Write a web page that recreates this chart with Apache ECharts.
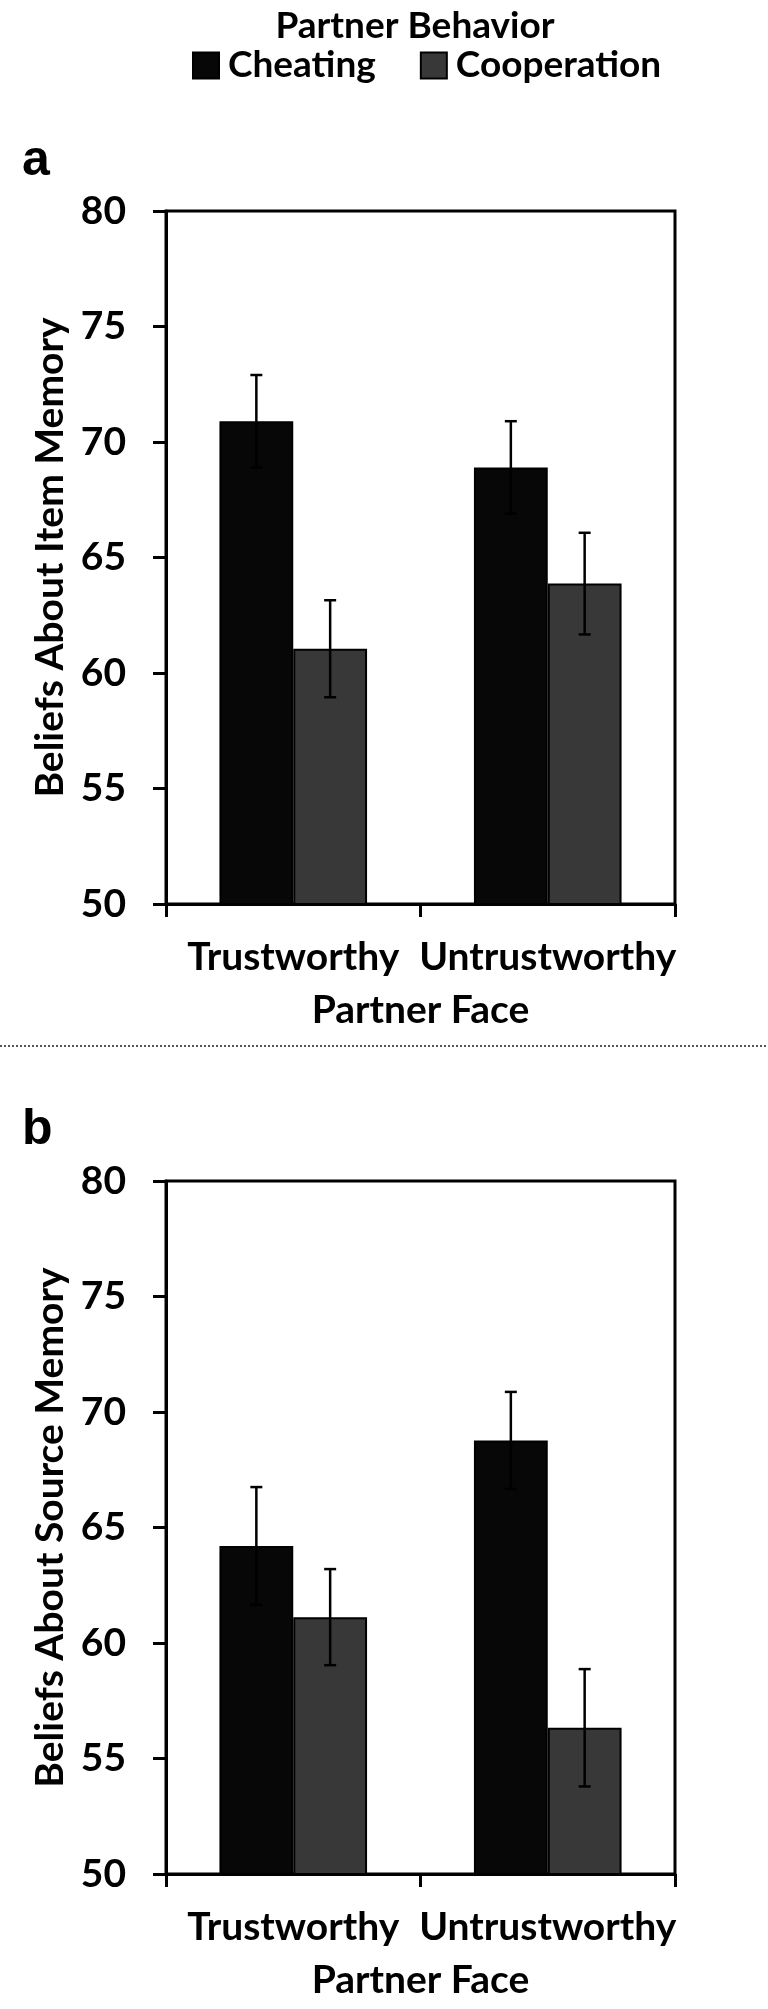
<!DOCTYPE html>
<html>
<head>
<meta charset="utf-8">
<script src="https://cdn.jsdelivr.net/npm/echarts@6/dist/echarts.min.js"></script>
<style>
  html, body { margin: 0; padding: 0; background: #fff; }
  #chart { width: 768px; height: 2009px; }
</style>
</head>
<body>
<div id="chart"></div>
<script>
// data
const faces = ['Trustworthy', 'Untrustworthy'];
const behaviors = ['Cheating', 'Cooperation'];

// panel a: beliefs about item memory
const itemCheating = [70.9, 68.9];
const itemCheatingSE = [2.0, 2.0];
const itemCooperation = [61.05, 63.87];
const itemCooperationSE = [2.1, 2.2];

// panel b: beliefs about source memory
const sourceCheating = [64.2, 68.77];
const sourceCheatingSE = [2.55, 2.1];
const sourceCooperation = [61.12, 56.33];
const sourceCooperationSE = [2.08, 2.54];

const yMin = 50, yMax = 80, yStep = 5;

const FONT = 'Lato';
const FS = 39;
const colCheating = '#070707';
const colCooperation = '#383838';

function errData(means, se) {
    return means.map(function (m, i) { return [i, m - se[i], m + se[i]]; });
}

// draws the whisker with caps, shifted onto its bar within the category
function errRender(side) {
    return function (params, api) {
        let i = api.value(0);
        let lo = api.coord([i, api.value(1)]);
        let hi = api.coord([i, api.value(2)]);
        let bw = api.size([1, 0])[0];
        let x = lo[0] + side * bw * 0.145;
        let style = { stroke: '#000', lineWidth: 2.5 };
        return {
            type: 'group',
            children: [
                { type: 'line', shape: { x1: x, y1: hi[1], x2: x, y2: lo[1] }, style: style },
                { type: 'line', shape: { x1: x - 6, y1: hi[1], x2: x + 6, y2: hi[1] }, style: style },
                { type: 'line', shape: { x1: x - 6, y1: lo[1], x2: x + 6, y2: lo[1] }, style: style }
            ]
        };
    };
}

function xAxisFor(grid) {
    return {
        type: 'category',
        gridIndex: grid,
        data: faces,
        name: 'Partner Face',
        nameLocation: 'middle',
        nameGap: 87,
        nameTextStyle: { fontFamily: FONT, fontWeight: 'bold', fontSize: FS, color: '#000' },
        axisLine: { lineStyle: { color: '#000', width: 3 } },
        axisTick: { show: true, length: 13, lineStyle: { color: '#000', width: 3 } },
        axisLabel: { interval: 0, hideOverlap: false, margin: 34, fontFamily: FONT, fontWeight: 'bold', fontSize: FS, color: '#000' },
        splitLine: { show: false }
    };
}

function yAxisFor(grid, name) {
    return {
        type: 'value',
        gridIndex: grid,
        min: yMin,
        max: yMax,
        interval: yStep,
        name: name,
        nameLocation: 'middle',
        nameGap: 95,
        nameTextStyle: { fontFamily: FONT, fontWeight: 'bold', fontSize: FS, color: '#000' },
        axisLine: { show: true, lineStyle: { color: '#000', width: 3 } },
        axisTick: { show: true, length: 13, lineStyle: { color: '#000', width: 3 } },
        axisLabel: { margin: 40, fontFamily: FONT, fontWeight: 'bold', fontSize: FS, color: '#000' },
        splitLine: { show: false }
    };
}

function barSeries(name, idx, values, color) {
    return {
        type: 'bar',
        name: name,
        xAxisIndex: idx,
        yAxisIndex: idx,
        data: values,
        barGap: '0%',
        barCategoryGap: '42%',
        itemStyle: { color: color, borderColor: '#000', borderWidth: 2 },
        emphasis: { disabled: true }
    };
}

function errSeries(idx, data, side) {
    return {
        type: 'custom',
        xAxisIndex: idx,
        yAxisIndex: idx,
        data: data,
        encode: { x: 0, y: [1, 2] },
        renderItem: errRender(side),
        z: 10,
        silent: true
    };
}

let chart = echarts.init(document.getElementById('chart'), null, { renderer: 'canvas' });

chart.setOption({
    backgroundColor: '#fff',
    animation: false,
    legend: {
        data: behaviors,
        left: 187,
        top: 42,
        icon: 'rect',
        itemWidth: 26,
        itemHeight: 26,
        itemGap: 44,
        textStyle: { fontFamily: FONT, fontWeight: 'bold', fontSize: 37, color: '#000', padding: [0, 0, 0, 4] }
    },
    graphic: [
        {
            type: 'text', x: 415, y: 8,
            style: { text: 'Partner Behavior', align: 'center', verticalAlign: 'top', fontFamily: FONT, fontWeight: 'bold', fontSize: 37, fill: '#000' }
        },
        {
            type: 'text', left: 22, top: 136,
            style: { text: 'a', fontFamily: 'Liberation Sans', fontWeight: 'bold', fontSize: 50, fill: '#000' }
        },
        {
            type: 'text', left: 22, top: 1105,
            style: { text: 'b', fontFamily: 'Liberation Sans', fontWeight: 'bold', fontSize: 50, fill: '#000' }
        },
        {
            type: 'line',
            shape: { x1: 0, y1: 1046, x2: 768, y2: 1046 },
            style: { stroke: '#555', lineWidth: 2, lineDash: [2, 2] }
        }
    ],
    grid: [
        { left: 166, right: 93, top: 211, height: 693, show: true, borderColor: '#000', borderWidth: 3 },
        { left: 166, right: 93, top: 1181, height: 693, show: true, borderColor: '#000', borderWidth: 3 }
    ],
    xAxis: [xAxisFor(0), xAxisFor(1)],
    yAxis: [
        yAxisFor(0, 'Beliefs About Item Memory'),
        yAxisFor(1, 'Beliefs About Source Memory')
    ],
    series: [
        barSeries('Cheating', 0, itemCheating, colCheating),
        barSeries('Cooperation', 0, itemCooperation, colCooperation),
        errSeries(0, errData(itemCheating, itemCheatingSE), -1),
        errSeries(0, errData(itemCooperation, itemCooperationSE), 1),
        barSeries('Cheating', 1, sourceCheating, colCheating),
        barSeries('Cooperation', 1, sourceCooperation, colCooperation),
        errSeries(1, errData(sourceCheating, sourceCheatingSE), -1),
        errSeries(1, errData(sourceCooperation, sourceCooperationSE), 1)
    ]
});
</script>
</body>
</html>
